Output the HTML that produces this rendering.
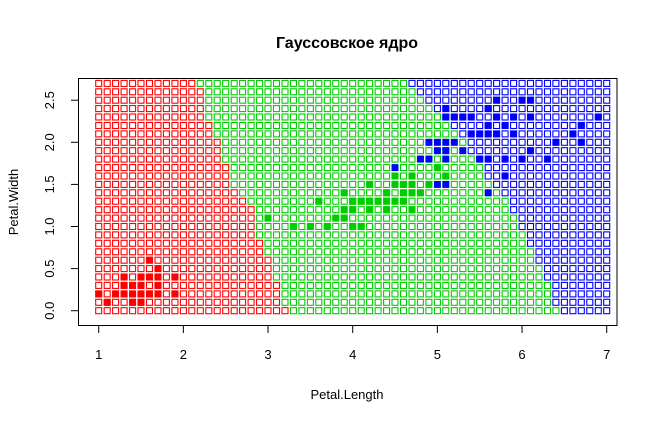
<!DOCTYPE html>
<html><head><meta charset="utf-8"><style>
body{margin:0;background:#fff;width:658px;height:423px;overflow:hidden}
text{font-family:"Liberation Sans",Arial,sans-serif}
</style></head><body>
<svg id="chart" width="658" height="423" viewBox="0 0 658 423" xmlns="http://www.w3.org/2000/svg">
<text x="347" y="48" text-anchor="middle" font-size="16" font-weight="bold">Гауссовское ядро</text>
<g id="grid"></g>
<g id="pts"></g>
<rect x="78.5" y="78.5" width="538.5" height="247" fill="none" stroke="#000" stroke-width="1"/>
<g id="axes"></g>
<text x="347" y="399" text-anchor="middle" font-size="13">Petal.Length</text>
<text transform="translate(18,202) rotate(-90)" text-anchor="middle" font-size="13">Petal.Width</text>
</svg>
<script>
// grid rows from y=2.7 down to 0.0: last red x and first blue x per row
const rowY=[2.7,2.6,2.5,2.4,2.3,2.2,2.1,2.0,1.9,1.8,1.7,1.6,1.5,1.4,1.3,1.2,1.1,1.0,0.9,0.8,0.7,0.6,0.5,0.4,0.3,0.2,0.1,0.0];
const lastRed=[2.1,2.2,2.2,2.2,2.2,2.3,2.3,2.4,2.4,2.4,2.5,2.5,2.5,2.6,2.7,2.8,2.8,2.8,2.8,2.9,2.9,3.0,3.0,3.0,3.1,3.1,3.1,3.2];
const firstBlue=[4.7,4.8,4.9,5.0,5.1,5.2,5.3,5.4,5.4,5.5,5.6,5.6,5.7,5.8,5.9,5.9,6.0,6.0,6.1,6.1,6.2,6.2,6.3,6.3,6.4,6.4,6.4,6.5];
const xTicks=[1,2,3,4,5,6,7];
const yTicks=[0,0.5,1,1.5,2,2.5];
const yTickLabels=["0.0","0.5","1.0","1.5","2.0","2.5"];
const setosaPL=[1.4,1.4,1.3,1.5,1.4,1.7,1.4,1.5,1.4,1.5,1.5,1.6,1.4,1.1,1.2,1.5,1.3,1.4,1.7,1.5,1.7,1.5,1.0,1.7,1.9,1.6,1.6,1.5,1.4,1.6,1.6,1.5,1.5,1.4,1.5,1.2,1.3,1.4,1.3,1.5,1.3,1.3,1.3,1.6,1.9,1.4,1.6,1.4,1.5,1.4];
const setosaPW=[0.2,0.2,0.2,0.2,0.2,0.4,0.3,0.2,0.2,0.1,0.2,0.2,0.1,0.1,0.2,0.4,0.4,0.3,0.3,0.3,0.2,0.4,0.2,0.5,0.2,0.2,0.4,0.2,0.2,0.2,0.2,0.4,0.1,0.2,0.2,0.2,0.2,0.1,0.2,0.2,0.3,0.3,0.2,0.6,0.4,0.3,0.2,0.2,0.2,0.2];
const versiPL=[4.7,4.5,4.9,4.0,4.6,4.5,4.7,3.3,4.6,3.9,3.5,4.2,4.0,4.7,3.6,4.4,4.5,4.1,4.5,3.9,4.8,4.0,4.9,4.7,4.3,4.4,4.8,5.0,4.5,3.5,3.8,3.7,3.9,5.1,4.5,4.5,4.7,4.4,4.1,4.0,4.4,4.6,4.0,3.3,4.2,4.2,4.2,4.3,3.0,4.1];
const versiPW=[1.4,1.5,1.5,1.3,1.5,1.3,1.6,1.0,1.3,1.4,1.0,1.5,1.0,1.4,1.3,1.4,1.5,1.0,1.5,1.1,1.8,1.3,1.5,1.2,1.3,1.4,1.4,1.7,1.5,1.0,1.1,1.0,1.2,1.6,1.5,1.6,1.5,1.3,1.3,1.3,1.2,1.4,1.2,1.0,1.3,1.2,1.3,1.3,1.1,1.3];
const virgPL=[6.0,5.1,5.9,5.6,5.8,6.6,4.5,6.3,5.8,6.1,5.1,5.3,5.5,5.0,5.1,5.3,5.5,6.7,6.9,5.0,5.7,4.9,6.7,4.9,5.7,6.0,4.8,4.9,5.6,5.8,6.1,6.4,5.6,5.1,5.6,6.1,5.6,5.5,4.8,5.4,5.6,5.1,5.1,5.9,5.7,5.2,5.0,5.2,5.4,5.1];
const virgPW=[2.5,1.9,2.1,1.8,2.2,2.1,1.7,1.8,1.8,2.5,2.0,1.9,2.1,2.0,2.4,2.3,1.8,2.2,2.3,1.5,2.3,2.0,2.0,1.8,2.1,1.8,1.8,1.8,2.1,1.6,1.9,2.0,2.2,1.5,1.4,2.3,2.4,1.8,1.8,2.1,2.4,2.3,1.9,2.3,2.5,2.3,1.9,2.0,2.3,1.8];

const NS="http://www.w3.org/2000/svg";
const sx=v=>98.7+(v-1)*84.67;
const sy=v=>310.7-v*84.2;
const RED="#FF0000",GREEN="#00CD00",BLUE="#0000FF";
const grid=document.getElementById('grid');
rowY.forEach((y,r)=>{
  for(let i=0;i<=60;i++){
    const x=Math.round((1+i*0.1)*10)/10;
    const c=x<=lastRed[r]+1e-9?RED:(x>=firstBlue[r]-1e-9?BLUE:GREEN);
    const el=document.createElementNS(NS,'rect');
    
    
    el.setAttribute('x',(sx(x)-3).toFixed(1));el.setAttribute('y',(sy(y)-3).toFixed(1));
    el.setAttribute('width',6);el.setAttribute('height',6);
    el.setAttribute('fill','none');el.setAttribute('stroke',c);el.setAttribute('stroke-width',1.1);
    grid.appendChild(el);
  }
});
const pts=document.getElementById('pts');
function drawPts(PL,PW,c,name){
  PL.forEach((x,i)=>{
    const el=document.createElementNS(NS,'rect');
    
    
    el.setAttribute('x',(sx(x)-3.4).toFixed(1));el.setAttribute('y',(sy(PW[i])-3.4).toFixed(1));
    el.setAttribute('width',6.8);el.setAttribute('height',6.8);el.setAttribute('fill',c);
    pts.appendChild(el);
  });
}
drawPts(setosaPL,setosaPW,RED,'setosa-point');
drawPts(versiPL,versiPW,GREEN,'versicolor-point');
drawPts(virgPL,virgPW,BLUE,'virginica-point');
const ax=document.getElementById('axes');
function add(tag,attrs,txt){const e=document.createElementNS(NS,tag);for(const k in attrs)e.setAttribute(k,attrs[k]);if(txt!==undefined)e.textContent=txt;ax.appendChild(e);return e;}
const xl=add('line',{x1:sx(1),x2:sx(7),y1:325.5,y2:325.5,stroke:'#000'});

xTicks.forEach(t=>{
  const l=add('line',{x1:sx(t),x2:sx(t),y1:325.5,y2:333,stroke:'#000'});
  
  const tx=add('text',{x:sx(t),y:359,'text-anchor':'middle','font-size':13},String(t));
  
});
const yl=add('line',{x1:78.5,x2:78.5,y1:sy(0),y2:sy(2.5),stroke:'#000'});

yTicks.forEach((t,i)=>{
  const l=add('line',{x1:71,x2:78.5,y1:sy(t),y2:sy(t),stroke:'#000'});
  
  const tx=add('text',{transform:`translate(54,${sy(t)}) rotate(-90)`,'text-anchor':'middle','font-size':13},yTickLabels[i]);
  
});
</script>
</body></html>
